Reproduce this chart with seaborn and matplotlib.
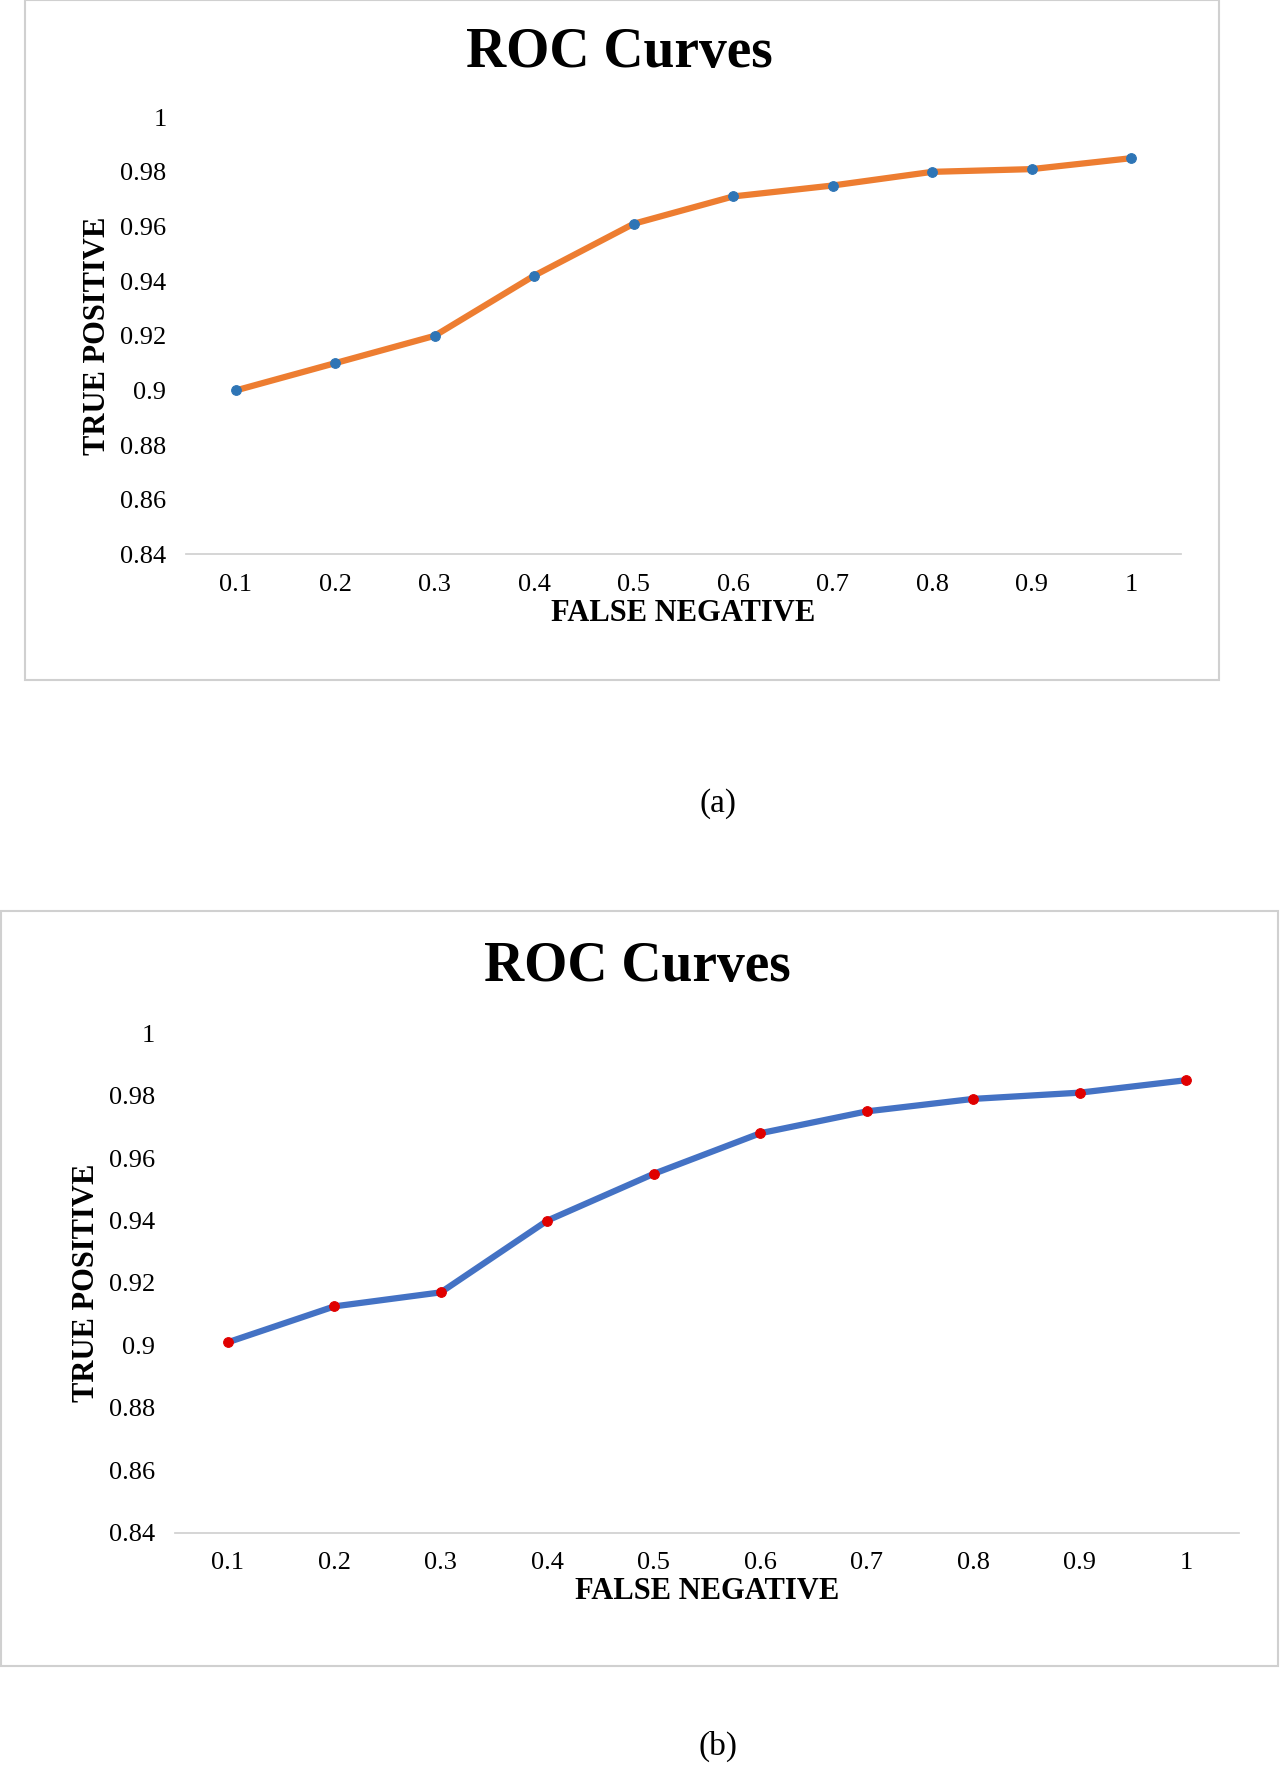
import matplotlib
matplotlib.use("Agg")
import matplotlib.pyplot as plt
import seaborn as sns
import pandas as pd
from matplotlib.patches import Rectangle

sns.set_theme(style="white")
plt.rcParams['font.family'] = ['Liberation Serif', 'DejaVu Serif']
plt.rcParams['text.color'] = 'black'
plt.rcParams['axes.labelcolor'] = 'black'
plt.rcParams['xtick.color'] = 'black'
plt.rcParams['ytick.color'] = 'black'

categories = ["0.1", "0.2", "0.3", "0.4", "0.5", "0.6", "0.7", "0.8", "0.9", "1"]
tp_a = [0.900, 0.910, 0.920, 0.942, 0.961, 0.971, 0.975, 0.980, 0.981, 0.985]
tp_b = [0.901, 0.9125, 0.917, 0.940, 0.955, 0.968, 0.975, 0.979, 0.981, 0.985]
yticks = [0.84, 0.86, 0.88, 0.90, 0.92, 0.94, 0.96, 0.98, 1.0]

W, H = 1136, 1568
fig = plt.figure(figsize=(12.8, 17.67), dpi=100)

def frac_rect(x0, y0, x1, y1):
    return [x0 / W, 1 - y1 / H, (x1 - x0) / W, (y1 - y0) / H]

def panel(axrect, boxrect, data, line_color, marker_color, title_x, title_y, caption, caption_y):
    fig.patches.append(Rectangle((boxrect[0], boxrect[1]), boxrect[2], boxrect[3],
                                 transform=fig.transFigure, fill=False,
                                 edgecolor="#d0d0d0", linewidth=1.5))
    ax = fig.add_axes(axrect)
    df = pd.DataFrame({"x": range(len(categories)), "y": data})
    sns.lineplot(data=df, x="x", y="y", ax=ax, color=line_color, linewidth=4.5,
                 marker="o", markersize=7, markerfacecolor=marker_color,
                 markeredgecolor=marker_color)
    ax.set_xlim(-0.5, len(categories) - 0.5)
    ax.set_ylim(0.84, 1.0)
    ax.set_xticks(range(len(categories)))
    ax.set_xticklabels(categories, fontsize=19)
    ax.set_yticks(yticks)
    ax.set_yticklabels([f"{v:g}" for v in yticks], fontsize=19)
    for s in ["top", "right", "left"]:
        ax.spines[s].set_visible(False)
    ax.spines["bottom"].set_color("#d0d0d0")
    ax.tick_params(axis="both", length=0, pad=14)
    ax.set_xlabel("FALSE NEGATIVE", fontsize=22, fontweight="bold", labelpad=2)
    ax.set_ylabel("TRUE POSITIVE", fontsize=22, fontweight="bold", labelpad=6)
    ax.patch.set_alpha(0)
    fig.text(title_x / W, title_y, "ROC Curves", ha="center", va="center",
             fontsize=40, fontweight="bold")
    fig.text(637 / W, caption_y, caption, ha="center", va="center", fontsize=24)

panel(frac_rect(165, 104, 1048, 492), frac_rect(22, 0, 1082, 603),
      tp_a, "#ed7d31", "#2e75b6", 550, 1 - 47 / H, "(a)", 1 - 713 / H)
panel(frac_rect(155, 917, 1100, 1360), frac_rect(1, 808, 1134, 1478),
      tp_b, "#4472c4", "#e00000", 566, 1 - 858 / H, "(b)", 1 - 1550 / H)

fig.savefig("out.png", dpi=100, facecolor="white")
